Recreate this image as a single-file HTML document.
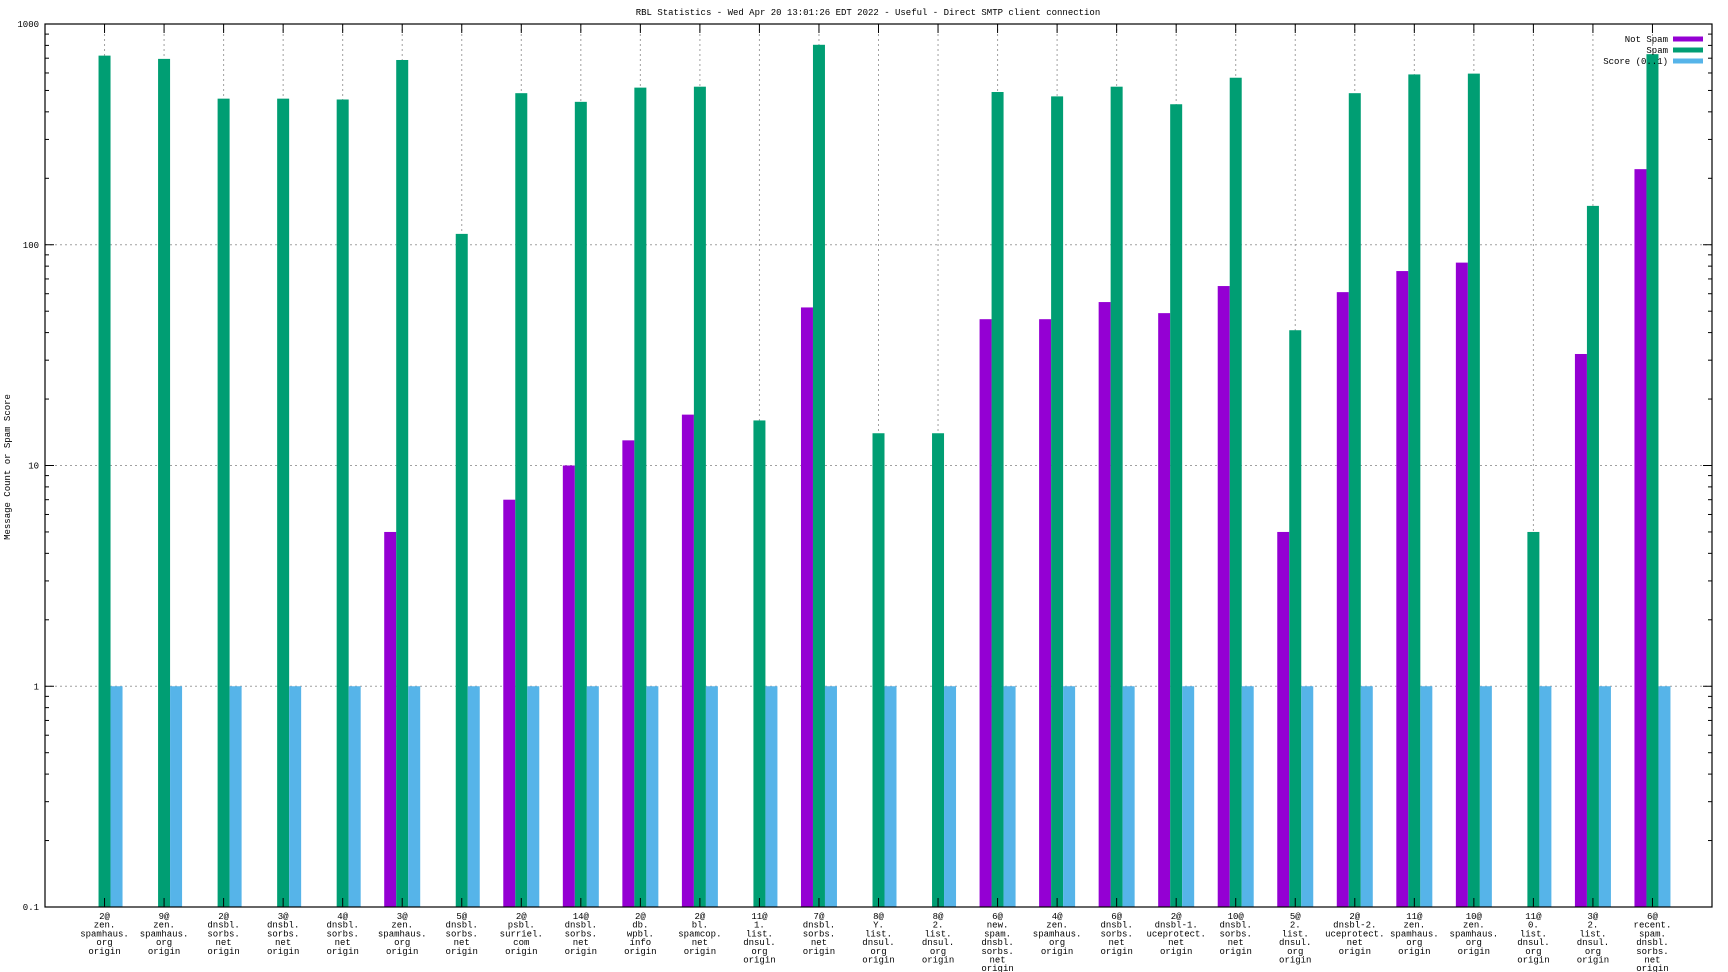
<!DOCTYPE html>
<html><head><meta charset="utf-8"><style>
html,body{margin:0;padding:0;background:#fff;}
svg{display:block;font-family:"Liberation Mono","DejaVu Sans Mono",monospace;}
</style></head><body>
<svg id="chart" width="1728" height="972" xmlns="http://www.w3.org/2000/svg">
<text x="868" y="15" font-size="9" text-anchor="middle">RBL Statistics - Wed Apr 20 13:01:26 EDT 2022 - Useful - Direct SMTP client connection</text>
<text x="0" y="0" font-size="9" text-anchor="middle" transform="translate(10,467) rotate(-90)">Message Count or Spam Score</text>
<g id="grid"></g>
<g id="bars"></g>
<g id="axes"></g>
<g id="legend"></g>
</svg>
<script>
const categories = [
 ["2@","zen.","spamhaus.","org","origin"],["9@","zen.","spamhaus.","org","origin"],
 ["2@","dnsbl.","sorbs.","net","origin"],["3@","dnsbl.","sorbs.","net","origin"],
 ["4@","dnsbl.","sorbs.","net","origin"],["3@","zen.","spamhaus.","org","origin"],
 ["5@","dnsbl.","sorbs.","net","origin"],["2@","psbl.","surriel.","com","origin"],
 ["14@","dnsbl.","sorbs.","net","origin"],["2@","db.","wpbl.","info","origin"],
 ["2@","bl.","spamcop.","net","origin"],["11@","1.","list.","dnsul.","org","origin"],
 ["7@","dnsbl.","sorbs.","net","origin"],["8@","Y.","list.","dnsul.","org","origin"],
 ["8@","2.","list.","dnsul.","org","origin"],["6@","new.","spam.","dnsbl.","sorbs.","net","origin"],
 ["4@","zen.","spamhaus.","org","origin"],["6@","dnsbl.","sorbs.","net","origin"],
 ["2@","dnsbl-1.","uceprotect.","net","origin"],["10@","dnsbl.","sorbs.","net","origin"],
 ["5@","2.","list.","dnsul.","org","origin"],["2@","dnsbl-2.","uceprotect.","net","origin"],
 ["11@","zen.","spamhaus.","org","origin"],["10@","zen.","spamhaus.","org","origin"],
 ["11@","0.","list.","dnsul.","org","origin"],["3@","2.","list.","dnsul.","org","origin"],
 ["6@","recent.","spam.","dnsbl.","sorbs.","net","origin"]
];
const notSpam = [0,0,0,0,0,5,0,7,10,13,17,0,52,0,0,46,46,55,49,65,5,61,76,83,0,32,220];
const spam = [719,695,459,459,455,687,112,486,444,515,520,16,805,14,14,492,470,520,433,571,41,486,591,596,5,150,730];
const score = [1,1,1,1,1,1,1,1,1,1,1,1,1,1,1,1,1,1,1,1,1,1,1,1,1,1,1];
const yTicks = [0.1,1,10,100,1000];
const yTickLabels = ["0.1","1","10","100","1000"];
const seriesNames = ["Not Spam","Spam","Score (0..1)"];

const NS="http://www.w3.org/2000/svg";
const L=45,R=1712,T=24,B=907;
const xS=i=>L+(i+1)*(R-L)/(categories.length+1);
const yS=v=>B-(Math.log10(v)+1)*(B-T)/4;
function mk(tag,attrs,parent){const e=document.createElementNS(NS,tag);for(const k in attrs)e.setAttribute(k,attrs[k]);parent.appendChild(e);return e;}
const grid=document.getElementById('grid'),bars=document.getElementById('bars'),axes=document.getElementById('axes'),legend=document.getElementById('legend');
const colors=["#9400d3","#009e73","#56b4e9"];
// grid
yTicks.forEach((v,k)=>{
 if(k>0&&k<yTicks.length-1){const g=mk('line',{x1:L,x2:R,y1:yS(v),y2:yS(v),stroke:'#a0a0a0','stroke-dasharray':'2,3'},grid);
 
 }
});
categories.forEach((c,i)=>{const g=mk('line',{x1:xS(i),x2:xS(i),y1:T,y2:B,stroke:'#a0a0a0','stroke-dasharray':'2,3'},grid);
 
 });
// bars
const bw=12;
[notSpam,spam,score].forEach((arr,s)=>{
 arr.forEach((v,i)=>{ if(!(v>0))return;
  const x=xS(i)+(s-1)*bw-bw/2, y=yS(v);
  const r=mk('rect',{x:x,y:y,width:bw,height:B-y,fill:colors[s]},bars);
  
  
 });
});
// axes frame
const fr=mk('rect',{x:L,y:T,width:R-L,height:B-T,fill:'none',stroke:'#000','stroke-width':1.2},axes);


// y ticks
yTicks.forEach((v,k)=>{
 const y=yS(v);
 mk('line',{x1:L,x2:L+9,y1:y,y2:y,stroke:'#000'},axes);
 mk('line',{x1:R,x2:R-9,y1:y,y2:y,stroke:'#000'},axes);
 const t=mk('text',{x:L-6,y:y+3,'font-size':9,'text-anchor':'end'},axes);
 t.textContent=yTickLabels[k];
 
 
 if(k<yTicks.length-1){for(let m=2;m<=9;m++){const ym=yS(v*m);
  mk('line',{x1:L,x2:L+4,y1:ym,y2:ym,stroke:'#000'},axes);
  mk('line',{x1:R,x2:R-4,y1:ym,y2:ym,stroke:'#000'},axes);}}
});
// x ticks and labels
categories.forEach((c,i)=>{
 const x=xS(i);
 mk('line',{x1:x,x2:x,y1:T,y2:T+9,stroke:'#000'},axes);
 mk('line',{x1:x,x2:x,y1:B,y2:B-9,stroke:'#000'},axes);
 const t=mk('text',{x:x,y:B+12,'font-size':9,'text-anchor':'middle'},axes);
 
 
 c.forEach((line,j)=>{const ts=mk('tspan',{x:x,dy:j?8.7:0},t);ts.textContent=line;});
});
// legend
seriesNames.forEach((n,s)=>{
 const y=39+s*11;
 const t=mk('text',{x:1668,y:y+3,'font-size':9,'text-anchor':'end'},legend);
 t.textContent=n;
 
 
 const r=mk('rect',{x:1673,y:y-2.5,width:30,height:5,fill:colors[s]},legend);
 
 
});
</script>
</body></html>
